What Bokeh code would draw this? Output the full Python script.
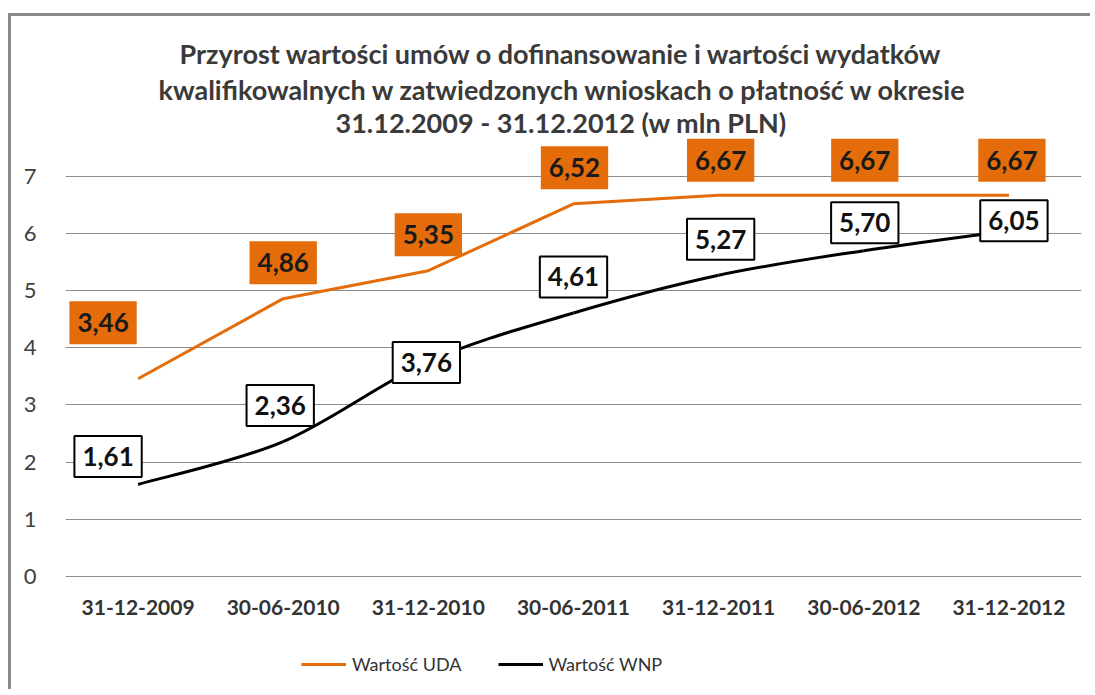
from bokeh.plotting import figure
from bokeh.models import (Range1d, FixedTicker, Title, Legend, LegendItem,
                          ColumnDataSource)
from bokeh.core.properties import value
from bokeh.embed import file_html
from bokeh.resources import INLINE

# ---------------- data ----------------
categories = ["31-12-2009", "30-06-2010", "31-12-2010", "30-06-2011",
              "31-12-2011", "30-06-2012", "31-12-2012"]
uda = [3.46, 4.86, 5.35, 6.52, 6.67, 6.67, 6.67]
wnp = [1.61, 2.36, 3.76, 4.61, 5.27, 5.70, 6.05]
y_ticks = [0, 1, 2, 3, 4, 5, 6, 7]
series_names = ["Wartość UDA", "Wartość WNP"]
title_lines = [
    "Przyrost wartości umów o dofinansowanie i wartości wydatków",
    "kwalifikowalnych w zatwiedzonych wnioskach o płatność w okresie",
    "31.12.2009 - 31.12.2012 (w mln PLN)",
]

# label placement (screen px, from each point)
uda_dx = [-35, 0, 0, 1, 2, 1, 3]
uda_dy = [-56, -36, -36, -36, -35, -35, -35]
wnp_dx = [-30, -3, -2, 0, 2, 1, 5]
wnp_dy = [-28, -36, 1, -36, -36, -28, -10]

ORANGE = "#E46C0A"
FONT = "Lato"

xs = [i + 0.5 for i in range(len(categories))]


def fmt(v):
    return f"{v:.2f}".replace(".", ",")


p = figure(width=1082, height=676, output_backend="svg", toolbar_location=None,
           x_range=Range1d(0, len(categories)), y_range=Range1d(-2.03, 7.68),
           min_border_left=54, min_border_right=12, min_border_top=121,
           min_border_bottom=0, outline_line_color=None,
           background_fill_color="white", border_fill_color="white",
           styles={"border-left": "3px solid #8a8a8a",
                   "border-top": "3px solid #8a8a8a",
                   "margin-left": "8px", "margin-top": "13px"})
p.title = None

# (line index from the bottom, standoff, horizontal offset from frame left)
title_layout = [(2, -3, 270), (1, 0, 93), (0, 1, 114)]
for idx, so, off in title_layout:
    t = Title(text=title_lines[idx], align="left", offset=off,
              text_font=FONT, text_font_size="27px", text_font_style="bold",
              text_color="#3a3a3a", standoff=so)
    p.add_layout(t, "above")

# axes
p.xaxis.ticker = FixedTicker(ticks=xs)
p.xaxis.major_label_overrides = {x: c for x, c in zip(xs, categories)}
p.xaxis.fixed_location = 0
p.yaxis.ticker = FixedTicker(ticks=y_ticks)
for ax in (p.xaxis, p.yaxis):
    ax.axis_line_color = None
    ax.major_tick_line_color = None
    ax.minor_tick_line_color = None
    ax.major_tick_out = 0
    ax.major_tick_in = 0
    ax.minor_tick_out = 0
    ax.major_label_text_font = FONT
    ax.major_label_text_color = "#333333"
p.xaxis.major_label_text_font_style = "bold"
p.xaxis.major_label_text_font_size = "21px"
p.xaxis.major_label_standoff = 24
p.yaxis.major_label_text_font_size = "22px"
p.yaxis.major_label_text_color = "#404040"
p.yaxis.major_label_standoff = 29
p.xgrid.grid_line_color = None
p.ygrid.grid_line_color = "#8c8c8c"
p.ygrid.grid_line_width = 1

# orange line (straight)
r_uda = p.line(xs, uda, line_color=ORANGE, line_width=3)

# black line (smoothed, Catmull-Rom style beziers through data)
n = len(xs)
def pt(i):
    i = max(0, min(n - 1, i))
    return xs[i], wnp[i]
bx0, by0, bx1, by1, bcx0, bcy0, bcx1, bcy1 = ([] for _ in range(8))
for i in range(n - 1):
    p0, p1, p2, p3 = pt(i - 1), pt(i), pt(i + 1), pt(i + 2)
    bx0.append(p1[0]); by0.append(p1[1])
    bx1.append(p2[0]); by1.append(p2[1])
    bcx0.append(p1[0] + (p2[0] - p0[0]) / 6); bcy0.append(p1[1] + (p2[1] - p0[1]) / 6)
    bcx1.append(p2[0] - (p3[0] - p1[0]) / 6); bcy1.append(p2[1] - (p3[1] - p1[1]) / 6)
r_wnp = p.bezier(x0=bx0, y0=by0, x1=bx1, y1=by1, cx0=bcx0, cy0=bcy0,
                 cx1=bcx1, cy1=bcy1, line_color="black", line_width=3)

# data labels
src_u = ColumnDataSource(dict(x=xs, y=uda, t=[fmt(v) for v in uda],
                              dx=uda_dx, dy=uda_dy))
p.text(x="x", y="y", text="t", source=src_u, x_offset="dx", y_offset="dy",
       text_font=value(FONT), text_font_style="bold", text_font_size="26px",
       text_color="#1a1a1a", text_align="center", text_baseline="middle",
       background_fill_color=ORANGE, border_line_color=None, padding=(8, 12))

src_w = ColumnDataSource(dict(x=xs, y=wnp, t=[fmt(v) for v in wnp],
                              dx=wnp_dx, dy=wnp_dy))
p.text(x="x", y="y", text="t", source=src_w, x_offset="dx", y_offset="dy",
       text_font=value(FONT), text_font_style="bold", text_font_size="26px",
       text_color="#111111", text_align="center", text_baseline="middle",
       background_fill_color="white", border_line_color="black",
       border_line_width=2, padding=(8, 11))

legend = Legend(items=[LegendItem(label=series_names[0], renderers=[r_uda]),
                       LegendItem(label=series_names[1], renderers=[r_wnp])],
                orientation="horizontal", location=(236, 17),
                border_line_color=None, background_fill_alpha=0,
                label_text_font=FONT, label_text_font_size="18px",
                label_text_color="#333333", glyph_width=45,
                spacing=36, label_standoff=6, padding=4, margin=0)
p.add_layout(legend)

open("out.html", "w").write(file_html(p, INLINE))
